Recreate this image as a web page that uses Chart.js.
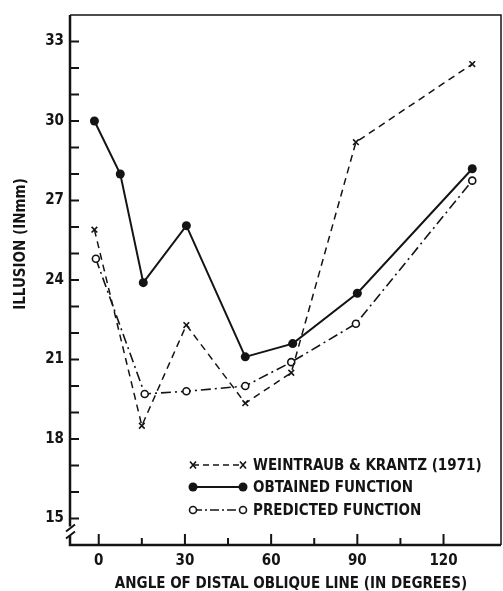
<!DOCTYPE html>
<html>
<head>
<meta charset="utf-8">
<script src="https://cdn.jsdelivr.net/npm/chart.js@4"></script>
<style>
  html, body { margin: 0; padding: 0; background: #fff; }
  #wrap { width: 503px; height: 591px; }
</style>
</head>
<body>
<div id="wrap"><canvas id="grafico"></canvas></div>
<script>
// datos
const weintraubX = [-1.5, 15, 30.5, 51, 67, 89.5, 130];
const weintraubY = [25.9, 18.5, 22.3, 19.35, 20.5, 29.2, 32.15];
const obtainedX = [-1.5, 7.5, 15.5, 30.5, 51, 67.5, 90, 130];
const obtainedY = [30.0, 28.0, 23.9, 26.05, 21.1, 21.6, 23.5, 28.2];
const predictedX = [-1, 16, 30.5, 51, 67, 89.5, 130];
const predictedY = [24.8, 19.7, 19.8, 20.0, 20.9, 22.35, 27.75];

const xTicks = [0, 30, 60, 90, 120];
const xMinor = [15, 45, 75, 105];
const yTicks = [15, 18, 21, 24, 27, 30, 33];
const yMinor = [16, 17, 19, 20, 22, 23, 25, 26, 28, 29, 31, 32];

const labels = [
  "WEINTRAUB & KRANTZ (1971)",
  "OBTAINED FUNCTION",
  "PREDICTED FUNCTION",
];
const xTitle = "ANGLE OF DISTAL OBLIQUE LINE (IN DEGREES)";
const yTitle = "ILLUSION (INmm)";

const ink = "#141414";
const font = "bold 15px 'DejaVu Sans Condensed', 'Liberation Sans Narrow', sans-serif";

function toPoints(xs, ys) {
  return xs.map((x, i) => ({ x: x, y: ys[i] }));
}

function drawMark(ctx, kind, x, y) {
  ctx.save();
  ctx.setLineDash([]);
  ctx.strokeStyle = ink;
  ctx.fillStyle = ink;
  if (kind === "x") {
    ctx.lineWidth = 1.6;
    ctx.beginPath();
    ctx.moveTo(x - 3, y - 3.5);
    ctx.lineTo(x + 3, y + 3.5);
    ctx.moveTo(x + 3, y - 3.5);
    ctx.lineTo(x - 3, y + 3.5);
    ctx.stroke();
  } else if (kind === "filled") {
    ctx.beginPath();
    ctx.arc(x, y, 4.5, 0, Math.PI * 2);
    ctx.fill();
  } else {
    ctx.lineWidth = 1.6;
    ctx.fillStyle = "#fff";
    ctx.beginPath();
    ctx.arc(x, y, 3.5, 0, Math.PI * 2);
    ctx.fill();
    ctx.stroke();
  }
  ctx.restore();
}

// marco, marcas de ejes, titulos y leyenda
const marcoPlugin = {
  id: "marco",
  beforeDatasetsDraw(chart) {
    const ctx = chart.ctx;
    const a = chart.chartArea;
    const xs = chart.scales.x;
    const ys = chart.scales.y;
    ctx.save();
    ctx.strokeStyle = ink;
    // borde superior y derecho
    ctx.lineWidth = 1.5;
    ctx.beginPath();
    ctx.moveTo(a.left, a.top);
    ctx.lineTo(a.right, a.top);
    ctx.lineTo(a.right, a.bottom);
    ctx.stroke();
    // ejes izquierdo e inferior con corte
    ctx.lineWidth = 2.5;
    const cut = ys.getPixelForValue(14.55);
    ctx.beginPath();
    ctx.moveTo(a.left, a.top);
    ctx.lineTo(a.left, cut - 4);
    ctx.moveTo(a.left, cut + 5);
    ctx.lineTo(a.left, a.bottom);
    ctx.lineTo(a.right, a.bottom);
    ctx.stroke();
    ctx.lineWidth = 2;
    ctx.beginPath();
    ctx.moveTo(a.left - 4, cut + 1);
    ctx.lineTo(a.left + 5, cut - 6);
    ctx.moveTo(a.left - 4, cut + 8);
    ctx.lineTo(a.left + 5, cut + 1);
    ctx.stroke();
    // marcas hacia dentro
    ctx.lineWidth = 2;
    ctx.beginPath();
    yTicks.concat(yMinor).forEach(v => {
      const p = ys.getPixelForValue(v);
      ctx.moveTo(a.left, p);
      ctx.lineTo(a.left + 9, p);
    });
    xTicks.forEach(v => {
      const p = xs.getPixelForValue(v);
      ctx.moveTo(p, a.bottom);
      ctx.lineTo(p, a.bottom - 11);
    });
    xMinor.forEach(v => {
      const p = xs.getPixelForValue(v);
      ctx.moveTo(p, a.bottom);
      ctx.lineTo(p, a.bottom - 7);
    });
    ctx.stroke();
    ctx.restore();
  },
  afterDraw(chart) {
    const ctx = chart.ctx;
    ctx.save();
    ctx.fillStyle = ink;
    ctx.font = font;
    ctx.textBaseline = "middle";
    // titulos
    ctx.textAlign = "center";
    ctx.fillText(xTitle, 291, 584);
    ctx.save();
    ctx.translate(21, 244);
    ctx.rotate(-Math.PI / 2);
    ctx.fillText(yTitle, 0, 0);
    ctx.restore();
    // leyenda
    const kinds = ["x", "filled", "open"];
    const dashes = [[6, 4], [], [9, 3, 2, 3]];
    const rows = [465, 487, 510];
    ctx.textAlign = "left";
    rows.forEach((y, i) => {
      ctx.save();
      ctx.strokeStyle = ink;
      ctx.lineWidth = i === 1 ? 2 : 1.5;
      ctx.setLineDash(dashes[i]);
      ctx.beginPath();
      ctx.moveTo(193, y);
      ctx.lineTo(242, y);
      ctx.stroke();
      ctx.restore();
      drawMark(ctx, kinds[i], 193, y);
      drawMark(ctx, kinds[i], 243, y);
      ctx.fillText(labels[i], 253, y + 1);
    });
    ctx.restore();
  },
};

function createChart() {
  const ctx = document.getElementById("grafico").getContext("2d");
  new Chart(ctx, {
    type: "scatter",
    data: {
      datasets: [
        {
          label: labels[0],
          data: toPoints(weintraubX, weintraubY),
          showLine: true,
          borderColor: ink,
          backgroundColor: ink,
          borderWidth: 1.5,
          borderDash: [7, 5],
          pointStyle: "crossRot",
          pointRadius: 4,
          pointBorderWidth: 1.6,
        },
        {
          label: labels[1],
          data: toPoints(obtainedX, obtainedY),
          showLine: true,
          borderColor: ink,
          backgroundColor: ink,
          borderWidth: 2,
          pointStyle: "circle",
          pointRadius: 4.5,
          pointBorderWidth: 0,
        },
        {
          label: labels[2],
          data: toPoints(predictedX, predictedY),
          showLine: true,
          borderColor: ink,
          backgroundColor: "#fff",
          borderWidth: 1.6,
          borderDash: [10, 4, 2, 4],
          pointStyle: "circle",
          pointRadius: 3.5,
          pointBorderWidth: 1.6,
        },
      ],
    },
    options: {
      responsive: true,
      maintainAspectRatio: false,
      animation: false,
      layout: {
        autoPadding: false,
        padding: { top: 14, right: 2, left: 0, bottom: 0 },
      },
      scales: {
        x: {
          type: "linear",
          min: -10,
          max: 140,
          afterBuildTicks: scale => {
            scale.ticks = xTicks.map(v => ({ value: v }));
          },
          afterFit: scale => {
            scale.height = 46;
          },
          grid: { display: false, drawTicks: false },
          border: { display: false },
          ticks: {
            color: ink,
            font: { family: "'DejaVu Sans Condensed', sans-serif", size: 15, weight: "bold" },
            padding: 7,
            maxRotation: 0,
          },
        },
        y: {
          type: "linear",
          min: 14,
          max: 34,
          afterBuildTicks: scale => {
            scale.ticks = yTicks.map(v => ({ value: v }));
          },
          afterFit: scale => {
            scale.width = 70;
          },
          grid: { display: false, drawTicks: false },
          border: { display: false },
          ticks: {
            color: ink,
            font: { family: "'DejaVu Sans Condensed', sans-serif", size: 15, weight: "bold" },
            padding: 6,
          },
        },
      },
      plugins: {
        legend: { display: false },
        tooltip: { enabled: false },
      },
    },
    plugins: [marcoPlugin],
  });
}

createChart();
</script>
</body>
</html>
